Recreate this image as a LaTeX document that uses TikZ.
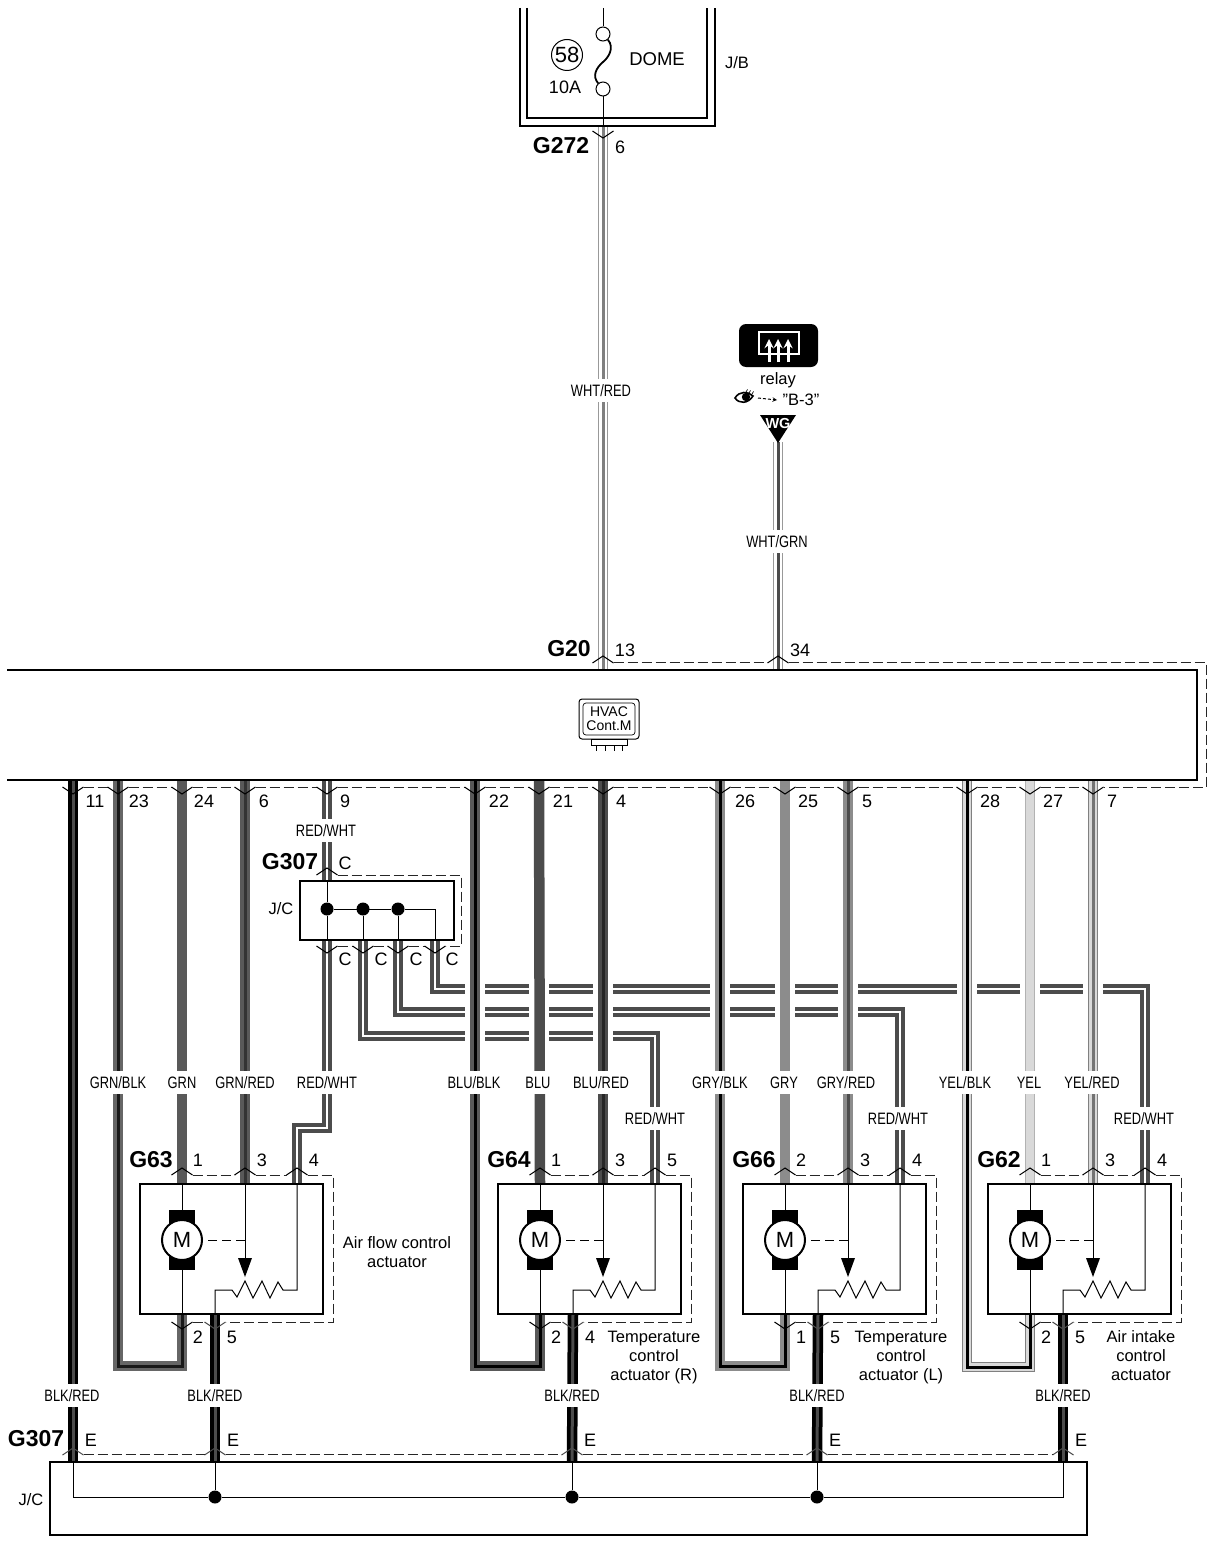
\documentclass[tikz,border=0pt]{standalone}
\usepackage{fontspec}
\setmainfont{Liberation Sans}
\newfontfamily\wirefont[FakeStretch=0.78]{Liberation Sans}
\usetikzlibrary{arrows}

\tikzset{
  wire/.style n args={3}{draw=#1,line width=10.5pt,postaction={draw=#2,line width=8.5pt},postaction={draw=#3,line width=3pt}},
  whtred/.style={wire={black!40}{white}{black!50}},
  whtgrn/.style={wire={black!40}{white}{black!70}},
  redwht/.style={draw=black!70,line width=10.5pt,postaction={draw=white,line width=2pt}},
  grnblk/.style={wire={black!60}{black!60}{black!90}},
  grnsol/.style={wire={black!65}{black!65}{black!65}},
  grnred/.style={wire={black!65}{black!65}{black!80}},
  blublk/.style={wire={black!65}{black!65}{black}},
  blusol/.style={wire={black!70}{black!70}{black!70}},
  blured/.style={wire={black!70}{black!70}{black!85}},
  gryblk/.style={wire={black!45}{black!45}{black}},
  grysol/.style={wire={black!45}{black!45}{black!45}},
  gryred/.style={wire={black!45}{black!45}{black!70}},
  yelblk/.style={wire={black!50}{black!15}{black}},
  yelsol/.style={wire={black!30}{black!15}{black!15}},
  yelred/.style={wire={black!50}{black!15}{black!55}},
  blkred/.style={wire={black}{black}{black!70}},
  boxline/.style={line width=2pt},
  thinline/.style={line width=1pt},
  dashline/.style={line width=1pt,draw=black!85,dash pattern=on 10pt off 4pt},
  chev/.style={line width=1pt},
  pics/chevup/.style={code={\draw[chev,#1] (-10.5,7) -- (0,0) -- (10.5,7);}},
  pics/chevdn/.style={code={\draw[chev,#1] (-10.5,-7) -- (0,0) -- (10.5,-7);}},
  wirelabel/.style={fill=white,inner xsep=1pt,inner ysep=0pt,minimum height=23pt,font=\wirefont\fontsize{16.5}{18}\selectfont},
  pinlabel/.style={inner sep=0pt,font=\fontsize{18}{20}\selectfont},
  smalltext/.style={inner sep=0pt,align=center,font=\fontsize{16.5}{19}\selectfont},
  connlabel/.style={inner sep=0pt,font=\bfseries\fontsize{23}{25}\selectfont},
  dot/.style={circle,fill=black,inner sep=0pt,minimum size=13pt}
}

\begin{document}
\begin{tikzpicture}[x=1pt,y=-1pt]
  \useasboundingbox (0,0) rectangle (1214,1546);

  \foreach \pin/\x in {11/73,23/118,24/182,6/245,9/327,22/475,21/539,4/603,26/720,25/785,5/848,28/967,27/1030,7/1093}
    \coordinate (cm\pin) at (\x,780);
  \coordinate (cm13) at (603,670);
  \coordinate (cm34) at (778,670);
  \coordinate (jb6) at (603,126);
  \coordinate (jcTop) at (327,881);
  \foreach \pin/\x in {a/327,b/363,c/398,d/435}
    \coordinate (jcOut\pin) at (\x,940);
  \foreach \pin/\x in {1/73,2/215,3/572,4/817,5/1063}
    \coordinate (jcE\pin) at (\x,1462);
  \foreach \act/\bx in {A/140,B/498,C/743,D/988}{
    \coordinate (\act-m1) at (\bx+42,1184);
    \coordinate (\act-a) at (\bx+105,1184);
    \coordinate (\act-r) at (\bx+157,1184);
    \coordinate (\act-m2) at (\bx+42,1314);
    \coordinate (\act-e) at (\bx+75,1314);
  }

  \draw[whtred] (jb6) -- (cm13);
  \draw[whtgrn] (778,442) -- (cm34);

  \draw[redwht] (jcOutd) -- ++(0,49) -| (D-r);
  \draw[redwht] (jcOutc) -- ++(0,72) -| (C-r);
  \draw[redwht] (jcOutb) -- ++(0,96) -| (B-r);
  \foreach \x in {475,539,603,720,785,848,967,1030,1093}
    \fill[white] (\x-10,975) rectangle (\x+10,1050);

  \draw[redwht] (cm9) -- (jcTop);
  \draw[redwht] (jcOuta) -- ++(0,188) -| (A-r);
  \draw[blkred] (cm11) -- (jcE1);
  \draw[grnblk] (cm23) -- ++(0,586) -| (A-m2);
  \draw[grnsol] (cm24) -- (A-m1);
  \draw[grnred] (cm6) -- (A-a);
  \draw[blublk] (cm22) -- ++(0,586) -| (B-m2);
  \draw[blusol] (cm21) -- (B-m1);
  \draw[blured] (cm4) -- (B-a);
  \draw[gryblk] (cm26) -- ++(0,586) -| (C-m2);
  \draw[grysol] (cm25) -- (C-m1);
  \draw[gryred] (cm5) -- (C-a);
  \draw[yelblk] (cm28) -- ++(0,587) -| (D-m2);
  \draw[yelsol] (cm27) -- (D-m1);
  \draw[yelred] (cm7) -- (D-a);
  \draw[blkred] (A-e) -- (jcE2);
  \draw[blkred] (B-e) -- (jcE3);
  \draw[blkred] (C-e) -- (jcE4);
  \draw[blkred] (D-e) -- (jcE5);

  \node[wirelabel] (wlTop) at (601,390.5) {WHT/RED};
  \node[wirelabel] (wlRel) at (777,541.5) {WHT/GRN};
  \node[wirelabel] (wlIn) at (326,830.5) {RED/WHT};
  \foreach \x/\name in {118/GRN\slash BLK,182/GRN,245/GRN\slash RED,327/RED\slash WHT,474/BLU\slash BLK,538/BLU,601/BLU\slash RED,720/GRY\slash BLK,784/GRY,846/GRY\slash RED,965/YEL\slash BLK,1029/YEL,1092/YEL\slash RED}
    \node[wirelabel] (wl\x) at (\x,1082.5) {\name};
  \foreach \x in {655,898,1144}
    \node[wirelabel] (wl\x) at (\x,1118.5) {RED/WHT};
  \foreach \x in {72,215,572,817,1063}
    \node[wirelabel] (wl\x) at (\x,1395.5) {BLK/RED};

  % J/B
  \draw[boxline] (520,8) -- (520,126) -- (715,126) -- (715,8);
  \draw[boxline] (527,8) -- (527,118) -- (707,118) -- (707,8);
  \node[draw,circle,inner sep=0pt,minimum size=14pt,line width=1pt] (fuseTop) at (603,34) {};
  \node[draw,circle,inner sep=0pt,minimum size=14pt,line width=1pt] (fuseBot) at (603,89) {};
  \draw[thinline] (603,8) -- (fuseTop);
  \draw[thinline] (fuseBot) -- (jb6);
  \draw[line width=1.8pt] (fuseTop) .. controls (615,48) and (608,58) .. (603,62)
    .. controls (596,68) and (592,76) .. (fuseBot);
  \node[draw,circle,inner sep=0pt,minimum size=31pt,line width=1pt,font=\fontsize{22}{24}\selectfont] (fuseNo) at (567,55) {58};
  \node[pinlabel] (fuseAmp) at (565,87) {10A};
  \node[pinlabel,font=\fontsize{18.5}{20}\selectfont] (fuseName) at (657,59) {DOME};
  \node[smalltext] (jbName) at (737,63) {J/B};
  \pic at (603,138) {chevdn};
  \node[connlabel] (g272) at (561,146) {G272};
  \node[pinlabel] (pin6a) at (620,147) {6};

  % relay
  \fill[rounded corners=7pt] (739,324) rectangle (818,367);
  \draw[white,line width=2pt] (759,332) rectangle (799,354);
  \foreach \x in {769,778,788}
    \draw[white,line width=3pt,-stealth] (\x,362) -- (\x,339);
  \node[smalltext] (relayName) at (778,380) {relay};
  \draw[line width=1.6pt,fill=white] (735,398) .. controls (739,391) and (748,391) .. (753,396)
    .. controls (748,404) and (739,404) .. cycle;
  \fill (746,397) circle (4.2pt);
  \foreach \x/\y in {746/392,749/393,752/394}
    \draw[line width=.7pt] (\x,\y) -- ++(1.5,-2.5);
  \draw[line width=1pt,dash pattern=on 3pt off 2pt,-stealth] (758,398) -- (777,400);
  \node[smalltext] (seeRef) at (801,400) {"B-3"};
  \fill (760,415) -- (796,415) -- (778,443) -- cycle;
  \node[inner sep=0pt,text=white,font=\bfseries\fontsize{14.5}{16}\selectfont] (wgName) at (778,424) {WG};

  % HVAC
  \draw[boxline] (7,670) -- (1197,670) -- (1197,780) -- (7,780);
  \node[draw,rounded corners=3pt,line width=1pt,minimum width=60pt,minimum height=40pt] (hvacOut) at (609,719) {};
  \node[draw,rounded corners=3pt,line width=.7pt,minimum width=52pt,minimum height=32pt,inner sep=0pt,align=center,
    font=\fontsize{14}{14}\selectfont] (hvacName) at (609,719) {HVAC\\Cont.M};
  \draw[line width=.8pt] (591,739) rectangle (627,745);
  \foreach \x in {596,605,614,622}
    \draw[line width=.6pt] (\x,745) -- (\x,751);
  \pic at (603,656) {chevup};
  \pic at (778,656) {chevup};
  \draw[dashline] (613.5,662) -- (767.5,662);
  \draw[dashline] (788.5,662) -- (1206,662) -- (1206,787) -- (1103.5,787);
  \foreach \a/\b in {83.5/107.5,128.5/171.5,192.5/234.5,255.5/316.5,337.5/464.5,485.5/528.5,549.5/592.5,613.5/709.5,730.5/774.5,795.5/837.5,858.5/956.5,977.5/1019.5,1040.5/1082.5}
    \draw[dashline] (\a,787) -- (\b,787);
  \foreach \x in {73,118,182,245,327,475,539,603,720,785,848,967,1030,1093}
    \pic at (\x,794) {chevdn};
  \node[connlabel] (g20) at (569,649) {G20};
  \node[pinlabel] (pin13) at (625,650) {13};
  \node[pinlabel] (pin34) at (800,650) {34};
  \foreach \n/\x in {11/95,23/139,24/204,6/264,9/345,22/499,21/563,4/621,26/745,25/808,5/867,28/990,27/1053,7/1112}
    \node[pinlabel] (cmNo\n) at (\x,801) {\n};

  % J/C upper
  \draw[boxline] (300,881) rectangle (454,940);
  \node[dot] (jcDotA) at (327,909) {};
  \node[dot] (jcDotB) at (363,909) {};
  \node[dot] (jcDotC) at (398,909) {};
  \draw[thinline] (jcTop) -- (jcDotA) -- (jcOuta);
  \draw[thinline] (jcDotB) -- (jcOutb);
  \draw[thinline] (jcDotC) -- (jcOutc);
  \draw[thinline] (jcDotA) -- (jcDotC) -| (jcOutd);
  \node[smalltext] (jcName) at (281,909) {J/C};
  \node[connlabel] (g307a) at (290,862) {G307};
  \node[pinlabel] (pinCin) at (345,863) {C};
  \pic at (327,868) {chevup};
  \draw[dashline] (337.5,875) -- (461,875) -- (461,946) -- (445.5,946);
  \foreach \a/\b in {337.5/352.5,373.5/387.5,408.5/424.5}
    \draw[dashline] (\a,946) -- (\b,946);
  \foreach \x/\lx in {327/345,363/381,398/416,435/452}{
    \pic at (\x,953) {chevdn};
    \node[pinlabel] (pinC\x) at (\lx,959) {C};
  }

  % actuators
  \foreach \act/\bx/\gname/\na/\nb/\nc/\nd/\ne in {A/140/G63/1/3/4/2/5,B/498/G64/1/3/5/2/4,C/743/G66/2/3/4/1/5,D/988/G62/1/3/4/2/5}{
    \begin{scope}[xshift=\bx pt]
      \draw[boxline] (0,1184) rectangle (183,1314);
      \fill (29,1210) rectangle (55,1270);
      \node[draw,circle,fill=white,line width=2pt,inner sep=0pt,minimum size=40pt,font=\fontsize{22}{24}\selectfont] (\act-motor) at (42,1240) {M};
      \draw[thinline] (\act-m1) -- (42,1210);
      \draw[thinline] (42,1270) -- (\act-m2);
      \draw[thinline] (\act-a) -- (105,1258);
      \fill (98,1258) -- (112,1258) -- (105,1277) -- cycle;
      \draw[thinline,dash pattern=on 9pt off 5pt] (68,1240) -- (105,1240);
      \draw[thinline] (\act-e) -- (75,1290) -- (92,1290) -- (97,1297) -- (105,1281) -- (113,1298) -- (122,1281)
        -- (130,1298) -- (138,1282) -- (143,1290) -- (157,1290) -- (\act-r);
      \node[connlabel] (\gname) at (11,1160) {\gname};
      \node[pinlabel] (\act-na) at (58,1160) {\na};
      \node[pinlabel] (\act-nb) at (122,1160) {\nb};
      \node[pinlabel] (\act-nc) at (174,1160) {\nc};
      \node[pinlabel] (\act-nd) at (58,1337) {\nd};
      \node[pinlabel] (\act-ne) at (92,1337) {\ne};
      \pic at (42,1168) {chevup};
      \pic at (105,1168) {chevup};
      \pic at (157,1168) {chevup};
      \pic at (42,1329) {chevdn};
      \pic at (75,1329) {chevdn={draw=black!70}};
      \draw[dashline] (52.5,1175) -- (94.5,1175);
      \draw[dashline] (115.5,1175) -- (146.5,1175);
      \draw[dashline] (167.5,1175) -- (193,1175) -- (193,1322) -- (85.5,1322);
      \draw[dashline] (52.5,1322) -- (64.5,1322);
    \end{scope}
  }
  \node[smalltext] (nameA) at (397,1252.5) {Air flow control\\actuator};
  \node[smalltext] (nameB) at (654,1357.5) {Temperature\\control\\actuator (R)};
  \node[smalltext] (nameC) at (901,1357.5) {Temperature\\control\\actuator (L)};
  \node[smalltext] (nameD) at (1141,1356) {Air intake\\control\\actuator};

  % J/C lower
  \draw[boxline] (50,1462) rectangle (1087,1535);
  \node[dot] (jcDotD) at (215,1497) {};
  \node[dot] (jcDotE) at (572,1497) {};
  \node[dot] (jcDotF) at (817,1497) {};
  \draw[thinline] (jcE1) |- (jcDotD);
  \draw[thinline] (jcDotD) -- (jcDotE) -- (jcDotF) -| (jcE5);
  \draw[thinline] (jcE2) -- (jcDotD);
  \draw[thinline] (jcE3) -- (jcDotE);
  \draw[thinline] (jcE4) -- (jcDotF);
  \node[smalltext] (jcNameE) at (31,1500) {J/C};
  \node[connlabel] (g307b) at (36,1439) {G307};
  \foreach \x in {73,215,572,817,1063}{
    \pic at (\x,1448) {chevup={draw=black!70}};
    \node[pinlabel] (pinE\x) at (\x+18,1440) {E};
  }
  \foreach \a/\b in {83.5/204.5,225.5/561.5,582.5/806.5,827.5/1052.5}
    \draw[dashline] (\a,1454.5) -- (\b,1454.5);
\end{tikzpicture}
\end{document}
